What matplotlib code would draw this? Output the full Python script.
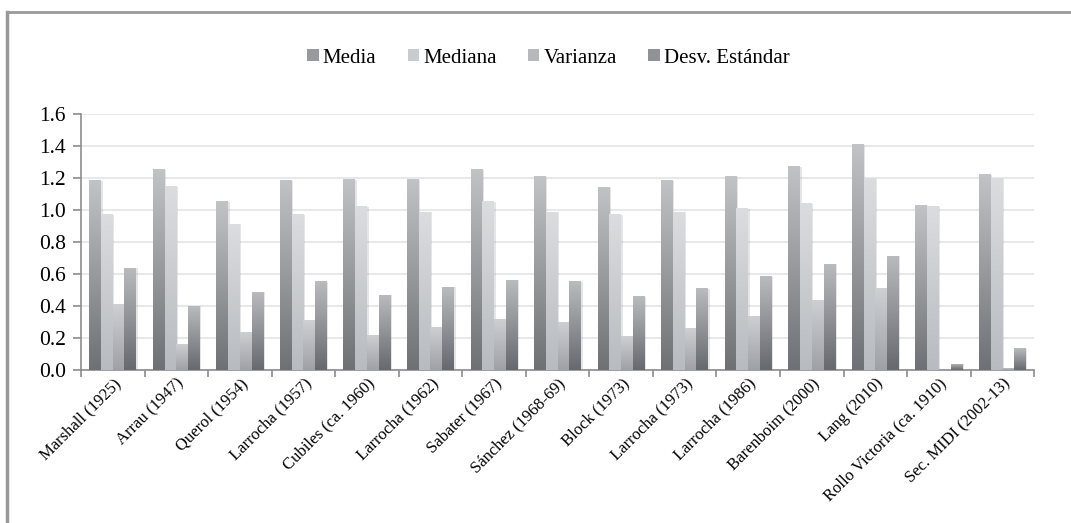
import numpy as np
import matplotlib
matplotlib.use("Agg")
import matplotlib.pyplot as plt
from matplotlib.colors import LinearSegmentedColormap
from matplotlib.patches import Rectangle
from matplotlib.lines import Line2D

plt.rcParams['font.family'] = ['Liberation Serif', 'DejaVu Serif']

# datos
interpretes = ["Marshall (1925)", "Arrau (1947)", "Querol (1954)", "Larrocha (1957)",
               "Cubiles (ca. 1960)", "Larrocha (1962)", "Sabater (1967)", "Sánchez (1968-69)",
               "Block (1973)", "Larrocha (1973)", "Larrocha (1986)", "Barenboim (2000)",
               "Lang (2010)", "Rollo Victoria (ca. 1910)", "Sec. MIDI (2002-13)"]
media = [1.19, 1.255, 1.055, 1.19, 1.195, 1.195, 1.255, 1.21, 1.145, 1.19, 1.21, 1.275, 1.415, 1.03, 1.225]
mediana = [0.975, 1.15, 0.915, 0.975, 1.025, 0.99, 1.055, 0.99, 0.975, 0.99, 1.01, 1.045, 1.2, 1.025, 1.2]
varianza = [0.41, 0.165, 0.24, 0.31, 0.22, 0.27, 0.32, 0.30, 0.21, 0.26, 0.34, 0.44, 0.51, 0.002, 0.015]
desv = [0.64, 0.40, 0.49, 0.555, 0.47, 0.52, 0.565, 0.555, 0.46, 0.51, 0.585, 0.665, 0.715, 0.04, 0.135]

series = [("Media", media), ("Mediana", mediana), ("Varianza", varianza), ("Desv. Estándar", desv)]
# (arriba, abajo) de cada degradado
grads = [((0.76, 0.765, 0.78), (0.43, 0.44, 0.455)),
         ((0.86, 0.865, 0.875), (0.72, 0.735, 0.75)),
         ((0.81, 0.815, 0.825), (0.62, 0.63, 0.65)),
         ((0.73, 0.735, 0.75), (0.40, 0.41, 0.43))]

fig = plt.figure(figsize=(10.71, 5.23), dpi=100)
ax = fig.add_axes([0.0756, 0.2925, 0.89, 0.4895])

x = np.arange(len(interpretes))
w = 0.185
offs = (np.arange(4) - 1.5) * w
grad = np.linspace(0, 1, 256).reshape(-1, 1)

handles = []
for i, (nombre, vals) in enumerate(series):
    top, bot = grads[i]
    cmap = LinearSegmentedColormap.from_list(nombre, [bot, top])
    bars = ax.bar(x + offs[i], vals, w, color='none', edgecolor='none', zorder=3)
    for b in bars:
        x0, y0 = b.get_x(), b.get_y()
        bw, bh = b.get_width(), b.get_height()
        # sombra suave
        ax.add_patch(Rectangle((x0 + 0.025, y0), bw, bh * 0.995, facecolor=(0.6, 0.6, 0.6),
                               alpha=0.25, edgecolor='none', zorder=2))
        im = ax.imshow(grad, cmap=cmap, extent=[x0, x0 + bw, y0, y0 + bh],
                       origin='lower', aspect='auto', zorder=3)
        im.set_clip_path(b)
    handles.append(Rectangle((0, 0), 1, 1, facecolor=tuple((np.array(top) + np.array(bot)) / 2),
                             edgecolor='none'))

ax.set_xlim(-0.5, len(interpretes) - 0.5)
ax.set_ylim(0, 1.6)
ax.set_yticks(np.arange(0, 1.61, 0.2))
ax.yaxis.set_major_formatter(plt.FormatStrFormatter('%.1f'))
ax.grid(axis='y', color='#e8e8e8', linewidth=1.5, zorder=0)
ax.set_axisbelow(True)

ax.set_xticks(x)
ax.set_xticklabels(interpretes, rotation=45, ha='right', va='top', rotation_mode='anchor', fontsize=12)
ax.tick_params(axis='x', length=0, pad=4)
ax.set_xticks(np.arange(-0.5, len(interpretes), 1), minor=True)
ax.tick_params(axis='x', which='minor', length=5, color='#8c8c8c', width=1.2)
ax.tick_params(axis='y', length=6, color='#8c8c8c', width=1.2, labelsize=15.5, pad=5)

for s in ['top', 'right']:
    ax.spines[s].set_visible(False)
for s in ['left', 'bottom']:
    ax.spines[s].set_color('#8c8c8c')
    ax.spines[s].set_linewidth(1.2)

fig.legend(handles, [s[0] for s in series], loc='center', bbox_to_anchor=(0.512, 0.889),
           ncol=4, frameon=False, fontsize=15, handlelength=0.55, handleheight=0.55,
           handletextpad=0.2, columnspacing=1.5)

# marco del gráfico
fig.add_artist(Line2D([0.0065, 1.0], [0.977, 0.977], transform=fig.transFigure, color='#999999', lw=2))
fig.add_artist(Line2D([0.0065, 0.0065], [0.0, 0.977], transform=fig.transFigure, color='#999999', lw=2.5))

fig.savefig("out.png", dpi=100)
